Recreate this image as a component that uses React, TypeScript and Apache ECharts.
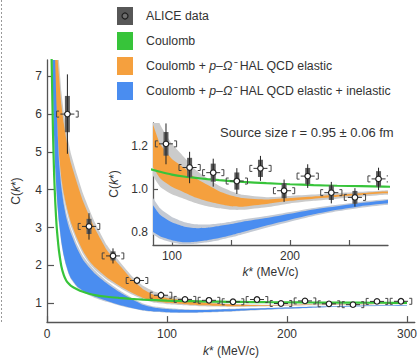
import React, { useEffect, useRef } from "react";
import * as echarts from "echarts";

// ---- curve grid (k* in MeV/c) ----
const K = [3, 4, 5, 6, 7, 8, 9, 10, 12, 14, 16, 18, 20, 25, 30, 35, 40, 50, 60, 70, 80, 90, 100, 110, 120, 130, 140, 150, 160, 180, 200, 220, 240, 260, 280, 300];

// Coulomb only (green line)
const coulomb = [9.0, 7.2, 5.5, 4.35, 3.6, 3.05, 2.68, 2.38, 1.97, 1.74, 1.6, 1.52, 1.46, 1.37, 1.3, 1.25, 1.215, 1.17, 1.14, 1.115, 1.095, 1.08, 1.067, 1.058, 1.052, 1.046, 1.041, 1.037, 1.033, 1.027, 1.022, 1.018, 1.015, 1.013, 1.011, 1.009];

// Coulomb + HAL QCD elastic (orange band, grey outer band)
const elasticLow = [14, 10.5, 8.8, 7.4, 6.6, 6.0, 5.45, 4.95, 4.3, 3.9, 3.6, 3.35, 3.13, 2.72, 2.38, 2.13, 1.95, 1.68, 1.47, 1.29, 1.14, 1.05, 1.01, 0.985, 0.96, 0.943, 0.93, 0.92, 0.918, 0.93, 0.945, 0.955, 0.964, 0.972, 0.98, 0.985];
const elasticHigh = [20, 15, 12.5, 10.5, 9.1, 8.1, 7.4, 7.0, 6.25, 5.75, 5.35, 4.98, 4.7, 4.18, 3.7, 3.32, 2.97, 2.4, 2.02, 1.65, 1.37, 1.21, 1.14, 1.1, 1.05, 1.02, 0.99, 0.97, 0.958, 0.951, 0.958, 0.965, 0.973, 0.98, 0.988, 0.992];
const elasticOuterLow = [13, 10, 8.4, 7.1, 6.35, 5.78, 5.25, 4.78, 4.15, 3.77, 3.48, 3.24, 3.03, 2.63, 2.3, 2.06, 1.88, 1.62, 1.42, 1.24, 1.1, 1.01, 0.975, 0.955, 0.935, 0.92, 0.91, 0.903, 0.903, 0.915, 0.933, 0.945, 0.955, 0.964, 0.973, 0.978];
const elasticOuterHigh = [21, 16, 13.3, 11.2, 9.7, 8.6, 7.85, 7.4, 6.6, 6.05, 5.62, 5.25, 4.95, 4.4, 3.9, 3.5, 3.13, 2.53, 2.12, 1.74, 1.46, 1.3, 1.21, 1.15, 1.09, 1.05, 1.015, 0.99, 0.973, 0.962, 0.968, 0.974, 0.981, 0.987, 0.993, 0.997];

// Coulomb + HAL QCD elastic + inelastic (blue band, grey outer band)
const inelasticLow = [11, 8.5, 6.6, 5.4, 4.55, 3.95, 3.5, 3.15, 2.62, 2.26, 2.0, 1.8, 1.66, 1.45, 1.33, 1.24, 1.17, 1.06, 0.96, 0.88, 0.815, 0.78, 0.762, 0.752, 0.755, 0.762, 0.772, 0.785, 0.8, 0.83, 0.857, 0.882, 0.903, 0.92, 0.932, 0.942];
const inelasticHigh = [17, 13, 10.5, 8.6, 7.2, 6.2, 5.4, 4.75, 4.05, 3.6, 3.27, 3.03, 2.84, 2.45, 2.15, 1.95, 1.78, 1.52, 1.3, 1.12, 0.96, 0.88, 0.845, 0.826, 0.818, 0.82, 0.828, 0.837, 0.848, 0.865, 0.885, 0.905, 0.92, 0.935, 0.947, 0.955];
const inelasticOuterLow = [10.5, 8.2, 6.4, 5.25, 4.42, 3.85, 3.42, 3.08, 2.57, 2.22, 1.97, 1.77, 1.63, 1.42, 1.3, 1.21, 1.14, 1.035, 0.94, 0.865, 0.803, 0.768, 0.751, 0.742, 0.745, 0.752, 0.762, 0.775, 0.79, 0.82, 0.848, 0.874, 0.896, 0.913, 0.926, 0.936];
const inelasticOuterHigh = [18, 14, 11.2, 9.1, 7.6, 6.55, 5.7, 5.0, 4.25, 3.77, 3.42, 3.17, 2.97, 2.56, 2.25, 2.04, 1.86, 1.58, 1.35, 1.16, 0.995, 0.91, 0.87, 0.847, 0.836, 0.835, 0.84, 0.848, 0.858, 0.874, 0.893, 0.912, 0.927, 0.941, 0.952, 0.96];

// ALICE data
const dataK = [17, 35, 55, 75, 95, 115, 135, 155, 175, 195, 215, 235, 255, 275, 295];
const dataC = [6.0, 3.03, 2.25, 1.6, 1.21, 1.1, 1.076, 1.037, 1.096, 0.992, 1.06, 0.983, 0.961, 1.047, 1.05];
const dataStat = [1.05, 0.35, 0.2, 0.1, 0.095, 0.073, 0.065, 0.06, 0.058, 0.052, 0.055, 0.05, 0.043, 0.052, 0.05];
const dataSys = [0.48, 0.2, 0.12, 0.07, 0.055, 0.045, 0.042, 0.04, 0.04, 0.035, 0.038, 0.034, 0.03, 0.036, 0.035];
const BIN_HALF = 9;

// tick labels
const mainXTicks = [0, 100, 200, 300];
const mainYTicks = [1, 2, 3, 4, 5, 6, 7];
const insetXTicks = [100, 150, 200, 250];
const insetXLabels = [100, 200];
const insetYTicks = [0.8, 0.9, 1.0, 1.1, 1.2];
const insetYLabels = [0.8, 1.0, 1.2];

const FONT = "'Liberation Sans', Arial, Helvetica, sans-serif";
const TXT = "#333";
const AX = "#555";
const GREEN = "#37c43a";
const ORANGE = "#f5a03e";
const BLUE = "#4a8df0";
const GREY_O = "#cbcbcb";
const GREY_B = "#c4cad4";

function bandSeries(id: string, lo: number[], hi: number[], color: string, gi: number, z: number) {
  return {
    type: "custom",
    id,
    xAxisIndex: gi,
    yAxisIndex: gi,
    clip: true,
    silent: true,
    z,
    data: K.map((k, i) => [k, lo[i], hi[i]]),
    encode: { x: 0, y: [1, 2] },
    renderItem: (params: any, api: any) => {
      if (params.dataIndex !== 0) return null;
      const upper = K.map((k, i) => api.coord([k, hi[i]]));
      const lower = K.map((k, i) => api.coord([k, lo[i]])).reverse();
      return {
        type: "polygon",
        shape: { points: upper.concat(lower), smooth: 0.15 },
        style: { fill: color },
      };
    },
  };
}

function pointSeries(id: string, gi: number, xmin: number, xmax: number) {
  const data = dataK
    .map((k, i) => [k, dataC[i], dataStat[i], dataSys[i]])
    .filter((d) => d[0] >= xmin && d[0] <= xmax);
  return {
    type: "custom",
    id,
    xAxisIndex: gi,
    yAxisIndex: gi,
    clip: true,
    silent: true,
    z: 10,
    data,
    encode: { x: 0, y: 1 },
    renderItem: (params: any, api: any) => {
      const k = api.value(0);
      const c = api.value(1);
      const st = api.value(2);
      const sy = api.value(3);
      const p = api.coord([k, c]);
      const eT = api.coord([k, c + st])[1];
      const eB = api.coord([k, c - st])[1];
      const sT = api.coord([k, c + sy])[1];
      const sB = api.coord([k, c - sy])[1];
      const xl = api.coord([k - BIN_HALF, c])[0];
      const xr = api.coord([k + BIN_HALF, c])[0];
      const h = 3;
      const w = 2.5;
      return {
        type: "group",
        children: [
          { type: "rect", shape: { x: p[0] - 2.5, y: sT, width: 5, height: sB - sT }, style: { fill: "#5e5e5e" } },
          { type: "line", shape: { x1: p[0], y1: eT, x2: p[0], y2: eB }, style: { stroke: "#222", lineWidth: 1 } },
          { type: "line", shape: { x1: p[0] - 7, y1: p[1], x2: p[0] + 7, y2: p[1] }, style: { stroke: "#333", lineWidth: 1 } },
          {
            type: "polyline",
            shape: { points: [[xl + w, p[1] - h], [xl, p[1] - h], [xl, p[1] + h], [xl + w, p[1] + h]] },
            style: { stroke: "#444", lineWidth: 1, fill: "none" },
          },
          {
            type: "polyline",
            shape: { points: [[xr - w, p[1] - h], [xr, p[1] - h], [xr, p[1] + h], [xr - w, p[1] + h]] },
            style: { stroke: "#444", lineWidth: 1, fill: "none" },
          },
          { type: "circle", shape: { cx: p[0], cy: p[1], r: 2.8 }, style: { fill: "#fff", stroke: "#222", lineWidth: 1.2 } },
        ],
      };
    },
  };
}

function coulombSeries(gi: number) {
  return {
    type: "line",
    xAxisIndex: gi,
    yAxisIndex: gi,
    data: K.map((k, i) => [k, coulomb[i]]),
    symbol: "none",
    smooth: 0.3,
    clip: true,
    silent: true,
    z: 5,
    lineStyle: { color: GREEN, width: 2.2 },
  };
}

const nameRich = { i: { fontStyle: "italic", fontSize: 12, fontFamily: FONT, color: TXT } };

const option: any = {
  animation: false,
  backgroundColor: "#fff",
  textStyle: { fontFamily: FONT },
  grid: [
    { left: 47, top: 60, width: 373, height: 273 },
    { left: 153, top: 123, width: 235, height: 122 },
  ],
  xAxis: [
    {
      type: "value",
      gridIndex: 0,
      min: 0,
      max: 306.5,
      interval: 100,
      splitLine: { show: false },
      axisLine: { lineStyle: { color: AX, width: 1.3 } },
      axisTick: { inside: true, length: 6, customValues: mainXTicks, lineStyle: { color: AX, width: 1.2 } },
      axisLabel: { customValues: mainXTicks, margin: 6, color: TXT, fontSize: 12, fontFamily: FONT },
      name: "{i|k}* (MeV/c)",
      nameLocation: "middle",
      nameGap: 17,
      nameTextStyle: { fontSize: 12, color: TXT, fontFamily: FONT, rich: nameRich },
    },
    {
      type: "value",
      gridIndex: 1,
      min: 84,
      max: 283,
      splitLine: { show: false },
      axisLine: { lineStyle: { color: AX, width: 1.3 } },
      axisTick: { inside: true, length: 5, customValues: insetXTicks, lineStyle: { color: AX, width: 1.2 } },
      axisLabel: { customValues: insetXLabels, margin: 5, color: TXT, fontSize: 12, fontFamily: FONT },
      name: "{i|k}* (MeV/c)",
      nameLocation: "middle",
      nameGap: 21,
      nameTextStyle: { fontSize: 12, color: TXT, fontFamily: FONT, rich: nameRich },
    },
  ],
  yAxis: [
    {
      type: "value",
      gridIndex: 0,
      min: 0.5,
      max: 7.43,
      splitLine: { show: false },
      axisLine: { lineStyle: { color: AX, width: 1.3 } },
      axisTick: { inside: true, length: 7, customValues: mainYTicks, lineStyle: { color: AX, width: 1.2 } },
      axisLabel: { customValues: mainYTicks, margin: 5, color: TXT, fontSize: 12, fontFamily: FONT },
      name: "C({i|k}*)",
      nameLocation: "middle",
      nameGap: 25,
      nameTextStyle: { fontSize: 12, color: TXT, fontFamily: FONT, rich: nameRich },
    },
    {
      type: "value",
      gridIndex: 1,
      min: 0.7395,
      max: 1.307,
      splitLine: { show: false },
      axisLine: { lineStyle: { color: AX, width: 1.3 } },
      axisTick: { inside: true, length: 5, customValues: insetYTicks, lineStyle: { color: AX, width: 1.2 } },
      axisLabel: {
        customValues: insetYLabels,
        margin: 5,
        color: TXT,
        fontSize: 12,
        fontFamily: FONT,
        formatter: (v: number) => v.toFixed(1),
      },
      name: "C({i|k}*)",
      nameLocation: "middle",
      nameGap: 29,
      nameTextStyle: { fontSize: 12, color: TXT, fontFamily: FONT, rich: nameRich },
    },
  ],
  series: [
    bandSeries("mOg", elasticOuterLow, elasticOuterHigh, GREY_O, 0, 1),
    bandSeries("mBg", inelasticOuterLow, inelasticOuterHigh, GREY_B, 0, 1),
    bandSeries("mO", elasticLow, elasticHigh, ORANGE, 0, 2),
    bandSeries("mB", inelasticLow, inelasticHigh, BLUE, 0, 2),
    coulombSeries(0),
    pointSeries("mP", 0, 0, 310),
    bandSeries("iOg", elasticOuterLow, elasticOuterHigh, GREY_O, 1, 1),
    bandSeries("iBg", inelasticOuterLow, inelasticOuterHigh, GREY_B, 1, 1),
    bandSeries("iO", elasticLow, elasticHigh, ORANGE, 1, 2),
    bandSeries("iB", inelasticLow, inelasticHigh, BLUE, 1, 2),
    coulombSeries(1),
    pointSeries("iP", 1, 84, 283),
  ],
  graphic: [
    { type: "line", shape: { x1: 1.5, y1: 0, x2: 1.5, y2: 323 }, style: { stroke: "#999", lineWidth: 1, lineDash: [2, 2] } },
    // legend
    { type: "rect", shape: { x: 117, y: 7, width: 16, height: 18 }, style: { fill: "#575757" } },
    { type: "circle", shape: { cx: 125, cy: 16, r: 3 }, style: { fill: "#6e6e6e", stroke: "#1e1e1e", lineWidth: 1.2 } },
    { type: "rect", shape: { x: 117, y: 32, width: 16, height: 18 }, style: { fill: GREEN } },
    { type: "rect", shape: { x: 117, y: 57, width: 16, height: 18 }, style: { fill: ORANGE } },
    { type: "rect", shape: { x: 117, y: 82, width: 16, height: 18 }, style: { fill: BLUE } },
    {
      type: "text",
      x: 146,
      y: 16,
      style: { text: "ALICE data", fill: TXT, fontSize: 12.3, fontFamily: FONT, verticalAlign: "middle", textVerticalAlign: "middle" },
    },
    {
      type: "text",
      x: 146,
      y: 41,
      style: { text: "Coulomb", fill: TXT, fontSize: 12.3, fontFamily: FONT, verticalAlign: "middle", textVerticalAlign: "middle" },
    },
    {
      type: "text",
      x: 146,
      y: 66,
      style: {
        text: "Coulomb + {i|p}–{i|Ω⁻} HAL QCD elastic",
        rich: { i: { fontStyle: "italic", fontSize: 12.3, fontFamily: FONT, fill: TXT } },
        fill: TXT,
        fontSize: 12.3,
        fontFamily: FONT,
        verticalAlign: "middle",
        textVerticalAlign: "middle",
      },
    },
    {
      type: "text",
      x: 146,
      y: 91,
      style: {
        text: "Coulomb + {i|p}–{i|Ω⁻} HAL QCD elastic + inelastic",
        rich: { i: { fontStyle: "italic", fontSize: 12.3, fontFamily: FONT, fill: TXT } },
        fill: TXT,
        fontSize: 12.3,
        fontFamily: FONT,
        verticalAlign: "middle",
        textVerticalAlign: "middle",
      },
    },
    {
      type: "text",
      x: 220,
      y: 132,
      style: {
        text: "Source size r = 0.95 ± 0.06 fm",
        fill: TXT,
        fontSize: 13,
        fontFamily: FONT,
        verticalAlign: "middle",
        textVerticalAlign: "middle",
      },
    },
  ],
};

export default function App() {
  const ref = useRef<HTMLDivElement>(null);
  useEffect(() => {
    document.body.style.margin = "0";
    const chart = echarts.init(ref.current as HTMLDivElement, null, { renderer: "svg" });
    chart.setOption(option);
    return () => chart.dispose();
  }, []);
  return (
    <div
      ref={ref}
      style={{ position: "absolute", left: 0, top: 0, width: 420, height: 362, background: "#fff" }}
    />
  );
}
